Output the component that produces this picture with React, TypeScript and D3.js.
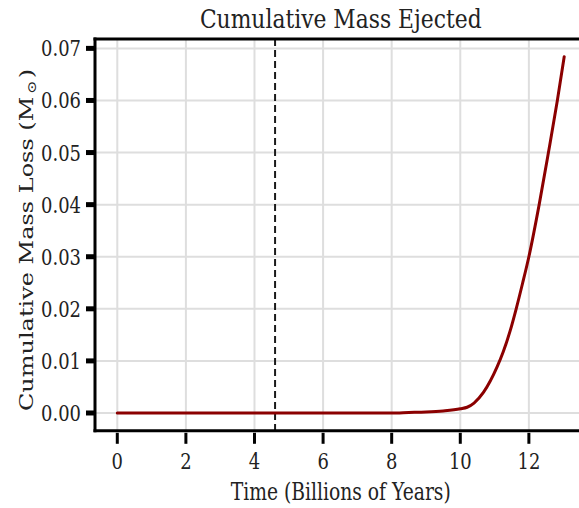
import React from "react";
import * as d3 from "d3";

const timeGyr = [0, 1, 2, 3, 4, 5, 6, 7, 8, 8.5, 9, 9.5, 10, 10.2, 10.4, 10.68, 11.07, 11.25, 11.46, 11.63, 11.82, 12.0, 12.3, 12.57, 12.83, 13.03];
const massLoss = [0, 0, 0, 0, 0, 0, 0, 0, 0, 0.0001, 0.0002, 0.0004, 0.0008, 0.0011, 0.0019, 0.004, 0.0088, 0.0117, 0.0159, 0.02, 0.025, 0.03, 0.04, 0.05, 0.06, 0.0684];
const xTicks = [0, 2, 4, 6, 8, 10, 12, 14];
const yTicks = [0, 0.01, 0.02, 0.03, 0.04, 0.05, 0.06, 0.07];
const sunAge = 4.6;
const title = "Cumulative Mass Ejected";
const xLabel = "Time (Billions of Years)";
const yLabel = "Cumulative Mass Loss (M";

const W = 579, H = 508;
const left = 95, right = 586.5, top = 39, bottom = 430.8;
const SX = 0.78;
const FONT = "'DejaVu Serif', serif";

export default function App() {
  const x = d3.scaleLinear().domain([-0.65, 13.68]).range([left, right]);
  const y = d3.scaleLinear().domain([-0.00342, 0.0718]).range([bottom, top]);
  const data = timeGyr.map((t, i) => [t, massLoss[i]] as [number, number]);
  const line = d3.line<[number, number]>().x(d => x(d[0])).y(d => y(d[1])).curve(d3.curveMonotoneX);
  const T = (px: number, py: number, s = SX) => `translate(${px},${py}) scale(${s},1)`;

  return (
    <svg width={W} height={H} style={{ position: "absolute", left: 0, top: 0, background: "#fff" }} fontFamily={FONT}>
      <defs>
        <clipPath id="plot"><rect x={left} y={top} width={right - left} height={bottom - top} /></clipPath>
      </defs>
      <g clipPath="url(#plot)">
        {xTicks.map(t => (
          <line key={"gx" + t} x1={x(t)} x2={x(t)} y1={top} y2={bottom} stroke="#dedede" strokeWidth={2} />
        ))}
        {yTicks.map(t => (
          <line key={"gy" + t} x1={left} x2={right} y1={y(t)} y2={y(t)} stroke="#dedede" strokeWidth={2} />
        ))}
        <line x1={x(sunAge)} x2={x(sunAge)} y1={top} y2={bottom} stroke="#1a1a1a" strokeWidth={2} strokeDasharray="7,4" />
        <path d={line(data) ?? ""} fill="none" stroke="#8b0000" strokeWidth={3} strokeLinecap="round" />
      </g>
      {/* spines */}
      <line x1={left} x2={left} y1={top - 1.5} y2={bottom + 1.5} stroke="#000" strokeWidth={3} />
      <line x1={left - 1.5} x2={W} y1={bottom} y2={bottom} stroke="#000" strokeWidth={3} />
      <line x1={left - 1.5} x2={W} y1={top} y2={top} stroke="#000" strokeWidth={3} />
      {/* y ticks */}
      {yTicks.map(t => (
        <g key={"yt" + t}>
          <line x1={left - 9} x2={left} y1={y(t)} y2={y(t)} stroke="#000" strokeWidth={5} />
          <text transform={T(left - 14, y(t) + 8)} textAnchor="end" fontSize={23} fill="#222">{d3.format(".2f")(t)}</text>
        </g>
      ))}
      {/* x ticks */}
      {xTicks.filter(t => x(t) < W).map(t => (
        <g key={"xt" + t}>
          <line x1={x(t)} x2={x(t)} y1={bottom + 2} y2={bottom + 13} stroke="#000" strokeWidth={3} />
          <text transform={T(x(t), bottom + 38.5)} textAnchor="middle" fontSize={23} fill="#222">{t}</text>
        </g>
      ))}
      <text transform={T((left + right) / 2, 28, 0.84)} textAnchor="middle" fontSize={26} fill="#222">{title}</text>
      <text transform={T((left + right) / 2, 500)} textAnchor="middle" fontSize={24} fill="#222">{xLabel}</text>
      <text transform={`translate(33,240) scale(${SX},1) rotate(-90)`} textAnchor="middle" fontSize={24} fill="#222">
        {yLabel}<tspan fontSize={16} dx={3} dy={4}>⊙</tspan><tspan dx={2} dy={-4}>)</tspan>
      </text>
    </svg>
  );
}
